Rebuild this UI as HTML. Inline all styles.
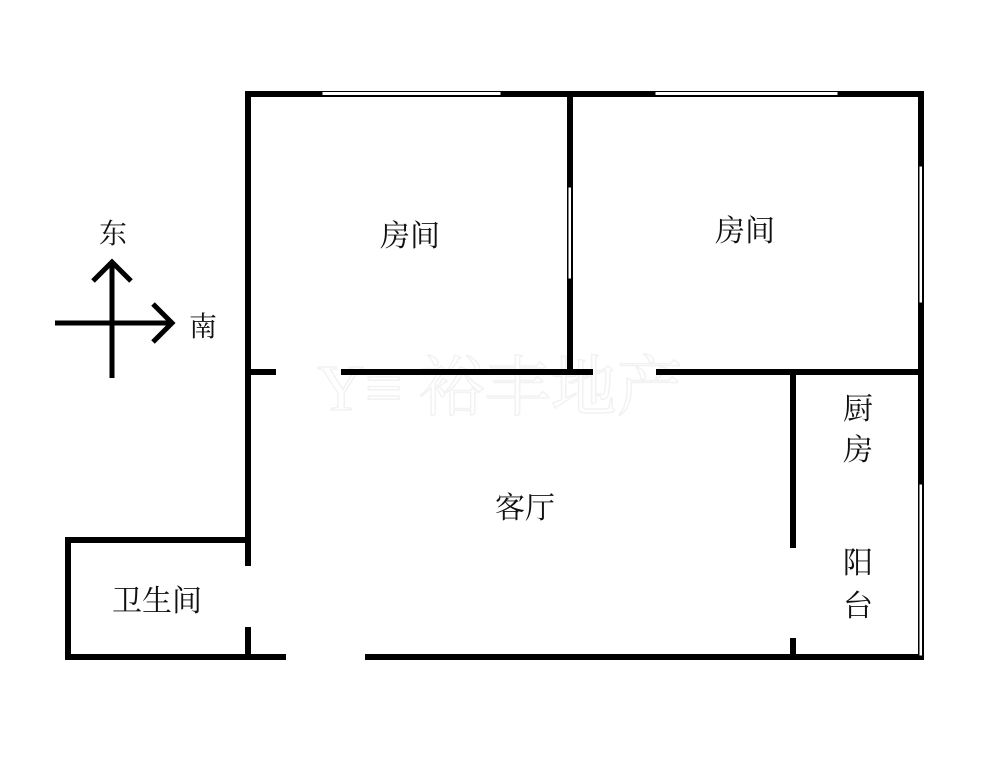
<!DOCTYPE html>
<html><head><meta charset="utf-8"><style>
html,body{margin:0;padding:0;background:#fff;}
svg text{font-family:"Liberation Serif","Noto Serif CJK SC","Noto Sans CJK SC",serif;fill:#111;}
</style></head><body>
<svg width="1000" height="756" viewBox="0 0 1000 756" xmlns="http://www.w3.org/2000/svg">
<rect width="1000" height="756" fill="#fff"/>
<text x="500" y="410" font-size="66" text-anchor="middle" stroke="#f2f2f2" stroke-width="1.5" style="fill:none">Y≡ 裕丰地产</text>
<g stroke="#000" stroke-width="6" fill="none" stroke-linecap="square">
<line x1="248" y1="94" x2="921" y2="94"/>
<line x1="248" y1="94" x2="248" y2="563"/>
<line x1="248" y1="630" x2="248" y2="657"/>
<line x1="921" y1="94" x2="921" y2="657"/>
<line x1="570" y1="94" x2="570" y2="372"/>
<line x1="248" y1="372" x2="273" y2="372"/>
<line x1="344" y1="372" x2="590" y2="372"/>
<line x1="659" y1="372" x2="921" y2="372"/>
<line x1="793" y1="372" x2="793" y2="545"/>
<line x1="793" y1="641" x2="793" y2="657"/>
<line x1="68" y1="540" x2="248" y2="540"/>
<line x1="68" y1="540" x2="68" y2="657"/>
<line x1="68" y1="657" x2="283" y2="657"/>
<line x1="368" y1="657" x2="921" y2="657"/>
</g>
<g fill="#fff" stroke="#000" stroke-width="1">
<rect x="322" y="91.5" width="179" height="4"/>
<rect x="655" y="91.5" width="183" height="4"/>
<rect x="568" y="187" width="3.5" height="92"/>
<rect x="919" y="166" width="3.5" height="137"/>
<rect x="919" y="484" width="3.5" height="172"/>
</g>
<g stroke="#000" stroke-width="5" fill="none">
<line x1="112" y1="263" x2="112" y2="378"/>
<polyline points="93,281 112,262 131,281"/>
<line x1="55" y1="323" x2="171" y2="323"/>
<polyline points="153,304 172,323 153,342"/>
</g>
<text x="113" y="243" font-size="28" text-anchor="middle">东</text>
<text x="203" y="336" font-size="28" text-anchor="middle">南</text>
<g font-size="30" text-anchor="middle">
<text x="410" y="246">房间</text>
<text x="745" y="241">房间</text>
<text x="525" y="518">客厅</text>
<text x="858" y="419">厨</text>
<text x="858" y="460">房</text>
<text x="858" y="573">阳</text>
<text x="858" y="616">台</text>
<text x="157" y="611">卫生间</text>
</g>
</svg>
</body></html>
